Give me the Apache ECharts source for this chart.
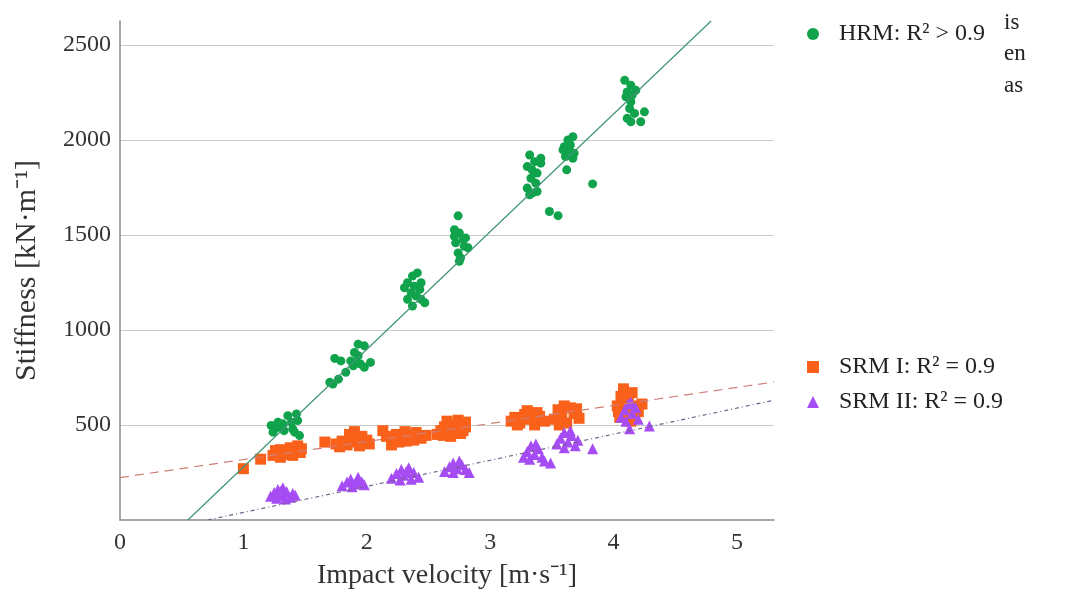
<!DOCTYPE html>
<html>
<head>
<meta charset="utf-8">
<title>Stiffness vs impact velocity</title>
<script src="https://cdn.jsdelivr.net/npm/echarts@6/dist/echarts.min.js"></script>
<style>
  html, body { margin: 0; padding: 0; background: #fff; }
  #chart { width: 1073px; height: 595px; }
</style>
</head>
<body>
<div id="chart"></div>
<script>
// legend names
const seriesNames = ['HRM: R\u00b2 > 0.9', 'SRM I: R\u00b2 = 0.9', 'SRM II: R\u00b2 = 0.9']

// HRM points [velocity, stiffness]
const hrmPoints = [
  [1.225, 497], [1.25, 479], [1.29, 488], [1.32, 506], [1.36, 549], [1.39, 514], [1.40, 479],
  [1.43, 558], [1.44, 523], [1.455, 444], [1.415, 462], [1.24, 462], [1.33, 470], [1.28, 514],
  [1.93, 925], [1.98, 916], [1.90, 881], [1.93, 864], [1.87, 837], [1.91, 829], [1.95, 820],
  [2.03, 829], [1.98, 803], [1.79, 837], [1.74, 850], [1.83, 777], [1.77, 741], [1.70, 724],
  [1.725, 715], [1.89, 811],
  [2.305, 1222], [2.33, 1248], [2.37, 1283], [2.41, 1300], [2.36, 1196], [2.40, 1178], [2.44, 1161],
  [2.37, 1126], [2.43, 1213], [2.33, 1161], [2.44, 1248], [2.47, 1143], [2.385, 1230],
  [2.74, 1600], [2.71, 1527], [2.75, 1510], [2.78, 1475], [2.72, 1458], [2.79, 1440], [2.82, 1432],
  [2.74, 1405], [2.76, 1379], [2.75, 1361], [2.71, 1492], [2.80, 1484],
  [3.32, 1920], [3.41, 1903], [3.30, 1859], [3.34, 1842], [3.38, 1825], [3.33, 1798], [3.37, 1772],
  [3.30, 1746], [3.34, 1720], [3.38, 1728], [3.41, 1877], [3.36, 1885], [3.32, 1711],
  [3.48, 1623], [3.55, 1601], [3.62, 1842], [3.83, 1768],
  [3.67, 2016], [3.63, 1999], [3.60, 1964], [3.64, 1947], [3.68, 1929], [3.61, 1912], [3.67, 1903],
  [3.59, 1947], [3.65, 1973],
  [4.09, 2313], [4.14, 2287], [4.11, 2252], [4.15, 2235], [4.10, 2226], [4.14, 2200], [4.13, 2165],
  [4.17, 2139], [4.11, 2113], [4.14, 2095], [4.25, 2147], [4.22, 2095], [4.18, 2261]
]

// SRM I points
const srm1Points = [
  [1.0, 270], [1.14, 320],
  [1.24, 340], [1.28, 355], [1.30, 370], [1.33, 345], [1.36, 360], [1.38, 380], [1.41, 365],
  [1.44, 390], [1.47, 375], [1.30, 330], [1.40, 340], [1.46, 355], [1.26, 365],
  [1.66, 410],
  [1.75, 400], [1.80, 415], [1.84, 395], [1.88, 430], [1.92, 410], [1.96, 440], [2.00, 420],
  [1.86, 450], [1.78, 385], [1.94, 390], [2.02, 400], [1.90, 465], [1.98, 405],
  [2.13, 470], [2.16, 440], [2.20, 425], [2.24, 450], [2.28, 430], [2.32, 415], [2.36, 445],
  [2.40, 460], [2.44, 430], [2.48, 445], [2.26, 410], [2.38, 420], [2.20, 395], [2.31, 465],
  [2.57, 450], [2.60, 470], [2.63, 490], [2.66, 460], [2.70, 500], [2.73, 480], [2.76, 455],
  [2.80, 490], [2.68, 440], [2.78, 470], [2.62, 445], [2.65, 520], [2.74, 525], [2.80, 515],
  [3.17, 520], [3.20, 540], [3.24, 510], [3.28, 555], [3.32, 530], [3.36, 500], [3.40, 545],
  [3.44, 520], [3.30, 575], [3.22, 500], [3.38, 565],
  [3.52, 530], [3.55, 580], [3.58, 555], [3.62, 510], [3.65, 590], [3.68, 560], [3.72, 535],
  [3.60, 600], [3.56, 500], [3.70, 585],
  [4.03, 600], [4.06, 650], [4.08, 690], [4.10, 560], [4.12, 630], [4.15, 670], [4.18, 600],
  [4.20, 570], [4.23, 610], [4.05, 540], [4.14, 520], [4.10, 600], [4.04, 570], [4.11, 660]
]

// SRM II points
const srm2Points = [
  [1.22, 125], [1.25, 145], [1.28, 160], [1.30, 130], [1.32, 170], [1.35, 150], [1.38, 120],
  [1.40, 140], [1.27, 115], [1.34, 110], [1.42, 130], [1.30, 150],
  [1.80, 180], [1.84, 200], [1.87, 215], [1.90, 190], [1.93, 225], [1.96, 200], [1.98, 185],
  [1.88, 175], [1.92, 205],
  [2.20, 220], [2.24, 245], [2.28, 265], [2.30, 235], [2.34, 275], [2.38, 250], [2.42, 225],
  [2.36, 215], [2.27, 210], [2.32, 255],
  [2.63, 255], [2.67, 280], [2.70, 300], [2.73, 270], [2.77, 290], [2.80, 265], [2.83, 250],
  [2.70, 250], [2.75, 310],
  [3.27, 330], [3.30, 360], [3.33, 390], [3.36, 345], [3.39, 375], [3.42, 330], [3.44, 310],
  [3.32, 320], [3.37, 400], [3.49, 300],
  [3.54, 400], [3.57, 430], [3.60, 460], [3.63, 410], [3.66, 445], [3.69, 390], [3.71, 420],
  [3.60, 380], [3.65, 470], [3.83, 375],
  [4.06, 540], [4.09, 580], [4.12, 610], [4.15, 560], [4.18, 590], [4.20, 530], [4.10, 520],
  [4.14, 620], [4.13, 480], [4.29, 495]
]

// trend line end points
const hrmFit = [[0.55, 0], [4.79, 2625]]
const srm1Fit = [[0, 223], [5.3, 726]]
const srm2Fit = [[0.71, 0], [5.3, 630]]

const xTicks = [0, 1, 2, 3, 4, 5]
const yTicks = [500, 1000, 1500, 2000, 2500]

const font = 'Liberation Serif'
const colors = { hrm: '#10a34c', srm1: '#f9611b', srm2: '#a64cf4' }

const chart = echarts.init(document.getElementById('chart'))

const legendText = { fontFamily: font, fontSize: 24, color: '#222', padding: [0, 0, 0, 15] }

const option = {
  backgroundColor: '#fff',
  animation: false,
  textStyle: { fontFamily: font },
  grid: { left: 120, right: 299, top: 21, bottom: 73 },
  legend: [
    {
      data: [{ name: seriesNames[0], icon: 'circle' }],
      left: 802, top: 17,
      itemWidth: 12, itemHeight: 12,
      textStyle: legendText
    },
    {
      data: [{ name: seriesNames[1], icon: 'rect' }, { name: seriesNames[2], icon: 'triangle' }],
      orient: 'vertical',
      left: 802, top: 350,
      itemWidth: 12, itemHeight: 12, itemGap: 11,
      textStyle: legendText
    }
  ],
  xAxis: {
    type: 'value',
    min: 0, max: 5.3, interval: 1,
    name: 'Impact velocity [m\u00b7s\u207b\u00b9]',
    nameLocation: 'middle', nameGap: 42,
    nameTextStyle: { fontFamily: font, fontSize: 28, color: '#333' },
    axisLine: { show: true, lineStyle: { color: '#8a8a8a', width: 1.5 } },
    axisTick: { show: false },
    splitLine: { show: false },
    axisLabel: {
      fontFamily: font, fontSize: 24, color: '#333', margin: 11,
      formatter: v => (xTicks.indexOf(v) >= 0 ? String(v) : '')
    }
  },
  yAxis: {
    type: 'value',
    min: 0, max: 2625, interval: 500,
    name: 'Stiffness [kN\u00b7m\u207b\u00b9]',
    nameLocation: 'middle', nameGap: 78,
    nameTextStyle: { fontFamily: font, fontSize: 30, color: '#333' },
    axisLine: { show: true, lineStyle: { color: '#8a8a8a', width: 1.5 } },
    axisTick: { show: false },
    splitLine: { show: true, showMaxLine: false, showMinLine: false, lineStyle: { color: '#c9c9c9', width: 1.2 } },
    axisLabel: {
      fontFamily: font, fontSize: 24, color: '#333', margin: 9,
      formatter: v => (yTicks.indexOf(v) >= 0 ? String(v) : '')
    }
  },
  series: [
    {
      name: seriesNames[0], type: 'scatter', data: hrmPoints,
      symbol: 'circle', symbolSize: 9, z: 3,
      itemStyle: { color: colors.hrm, opacity: 1 }
    },
    {
      name: seriesNames[1], type: 'scatter', data: srm1Points,
      symbol: 'rect', symbolSize: 11, z: 2,
      itemStyle: { color: colors.srm1, opacity: 1 }
    },
    {
      name: seriesNames[2], type: 'scatter', data: srm2Points,
      symbol: 'triangle', symbolSize: 11, z: 2,
      itemStyle: { color: colors.srm2, opacity: 1 }
    },
    // trend lines
    {
      type: 'line', data: hrmFit, symbol: 'none', z: 4, silent: true,
      lineStyle: { color: '#3f9474', width: 1.2 }
    },
    {
      type: 'line', data: srm1Fit, symbol: 'none', z: 4, silent: true,
      lineStyle: { color: '#cf7f78', width: 1.2, type: [9, 6] }
    },
    {
      type: 'line', data: srm2Fit, symbol: 'none', z: 4, silent: true,
      lineStyle: { color: '#76608a', width: 1.2, type: [4, 3, 1, 3] }
    }
  ],
  // bits of the page text showing beside the figure
  graphic: [
    { type: 'text', left: 1004, top: 11, style: { text: 'is', font: '23px "Liberation Serif"', fill: '#222' } },
    { type: 'text', left: 1004, top: 42, style: { text: 'en', font: '23px "Liberation Serif"', fill: '#222' } },
    { type: 'text', left: 1004, top: 74, style: { text: 'as', font: '23px "Liberation Serif"', fill: '#222' } }
  ]
}

chart.setOption(option)
window.addEventListener('resize', () => {
  chart && chart.resize()
})
</script>
</body>
</html>
